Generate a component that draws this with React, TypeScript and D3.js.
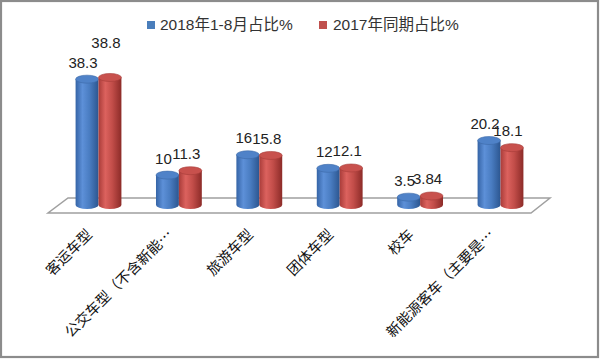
import React from "react";
import * as d3 from "d3";

const categories = ["客运车型", "公交车型（不含新能…", "旅游车型", "团体车型", "校车", "新能源客车（主要是…"];
const seriesNames = ["2018年1-8月占比%", "2017年同期占比%"];
const values2018 = [38.3, 10, 16, 12, 3.5, 20.2];
const values2017 = [38.8, 11.3, 15.8, 12.1, 3.84, 18.1];
const seriesValues = [values2018, values2017];

const W = 600;
const H = 359;
const colors = [
  { id: "gBlue", stops: ["#3564a6", "#5d90d8", "#4a7dc2", "#2c5690"], top: "#4f82c8", topStroke: "#3d6aa8" },
  { id: "gRed", stops: ["#a93c39", "#dc625e", "#c24d49", "#8c2b28"], top: "#c8514d", topStroke: "#a63c39" },
];

export default function App() {
  const x = d3.scaleBand<string>().domain(categories).range([58.3, 540.7]).paddingInner(0.43).paddingOuter(0.215);
  const xs = d3.scaleBand<number>().domain([0, 1]).range([0, x.bandwidth()]);
  const y = d3.scaleLinear().domain([0, 40]).range([209, 73.4]);
  const baseY = 205;
  const rx = xs.bandwidth() / 2;
  const ry = 4;
  const fontNum = "'Liberation Sans', 'Noto Sans CJK SC', sans-serif";
  const fontCat = "'Noto Sans CJK SC', sans-serif";

  const [r0, r1] = x.range();
  const floor = [
    [r0 + 9.7, 198],
    [r1 + 9.3, 198],
    [r1 - 9.7, 213],
    [r0 - 10.3, 213],
  ];

  // value labels with simple collision lift
  const labelW = (s: string) => s.replace(".", "").length * 8.3 + (s.includes(".") ? 4.2 : 0);
  const labels: { x: number; y: number; text: string }[] = [];
  categories.forEach((c, i) => {
    const l0 = { x: (x(c) as number) + (xs(0) as number) + rx - 4, y: y(values2018[i]) - 11.5, text: String(values2018[i]) };
    const l1 = { x: (x(c) as number) + (xs(1) as number) + rx - 4, y: y(values2017[i]) - 11.5, text: String(values2017[i]) };
    const overlapX = (l0.x + labelW(l0.text) / 2) - (l1.x - labelW(l1.text) / 2);
    const overlapY = Math.abs(l0.y - l1.y) < 5;
    if (overlapX > 6 && overlapY) l1.y = Math.min(l0.y, l1.y) - 18;
    labels.push(l0, l1);
  });

  return (
    <svg width={W} height={H} style={{ position: "fixed", left: 0, top: 0, display: "block", background: "#fff" }}>
      <defs>
        {colors.map((c) => (
          <linearGradient key={c.id} id={c.id} x1="0" x2="1" y1="0" y2="0">
            <stop offset="0%" stopColor={c.stops[0]} />
            <stop offset="30%" stopColor={c.stops[1]} />
            <stop offset="60%" stopColor={c.stops[2]} />
            <stop offset="100%" stopColor={c.stops[3]} />
          </linearGradient>
        ))}
      </defs>
      <rect x={1} y={1} width={597} height={356} fill="#fff" stroke="#8c8c8c" strokeWidth={2.2} />

      {/* legend */}
      <g fontFamily={fontNum} fontSize={15.5} fill="#333">
        <rect x={147} y={21} width={8} height={8} fill="#4a7ebb" />
        <text x={160} y={30}>{seriesNames[0]}</text>
        <rect x={319} y={21} width={8} height={8} fill="#c0504d" />
        <text x={333} y={30}>{seriesNames[1]}</text>
      </g>

      {/* floor */}
      <polygon points={floor.map((p) => p.join(",")).join(" ")} fill="#fff" stroke="#a0a0a0" strokeWidth={1.5} />

      {/* cylinders */}
      {categories.map((c, i) => (
        <g key={c}>
          {seriesValues.map((vals, s) => {
            const cx = (x(c) as number) + (xs(s) as number) + rx;
            const top = y(vals[i]);
            const col = colors[s];
            const d = `M${cx - rx},${top} L${cx - rx},${baseY} A${rx},${ry} 0 0 0 ${cx + rx},${baseY} L${cx + rx},${top} Z`;
            return (
              <g key={s}>
                <path d={d} fill={`url(#${col.id})`} />
                <ellipse cx={cx} cy={top} rx={rx} ry={ry} fill={col.top} stroke={col.topStroke} strokeWidth={0.6} />
              </g>
            );
          })}
        </g>
      ))}

      {/* value labels */}
      <g fontFamily={fontNum} fontSize={15} fill="#222" textAnchor="middle">
        {labels.map((l, k) => (
          <text key={k} x={l.x} y={l.y}>{l.text}</text>
        ))}
      </g>

      {/* category labels */}
      <g fontFamily={fontCat} fontSize={14.5} fill="#111" textAnchor="end">
        {categories.map((c) => {
          const ax = (x(c) as number) + x.bandwidth() / 2 - 10;
          const ay = 231;
          return (
            <text key={c} x={ax} y={ay} dominantBaseline="central" transform={`rotate(-45 ${ax} ${ay})`}>
              {c}
            </text>
          );
        })}
      </g>
    </svg>
  );
}
